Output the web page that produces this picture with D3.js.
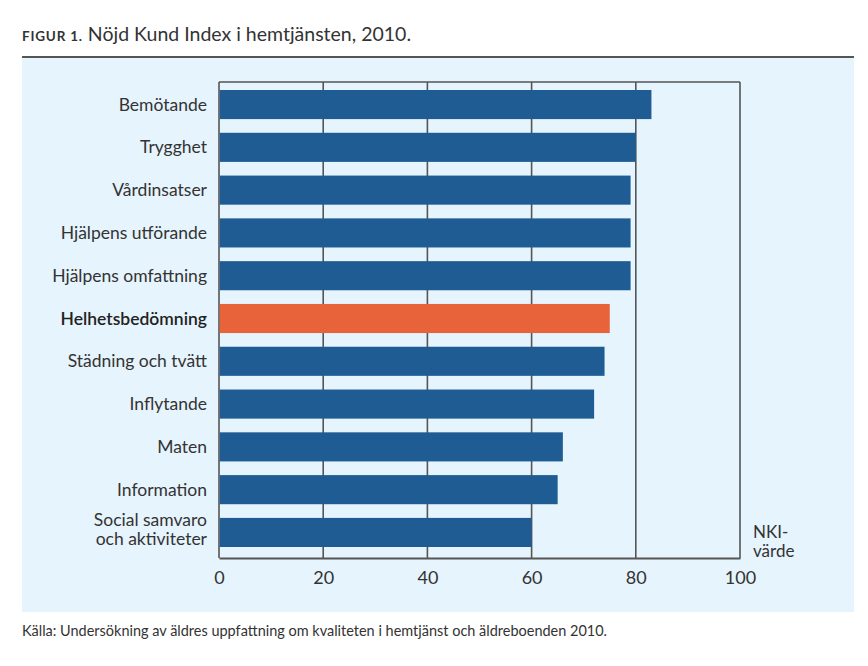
<!DOCTYPE html>
<html><head><meta charset="utf-8">
<script src="https://cdn.jsdelivr.net/npm/d3@7/dist/d3.min.js"></script>
<style>body{margin:0;background:#fff;} svg{display:block;font-family:Lato, "Open Sans", sans-serif;}</style>
</head><body><svg id="c" width="868" height="666"></svg>
<script>
const categories = ["Bemötande","Trygghet","Vårdinsatser","Hjälpens utförande","Hjälpens omfattning","Helhetsbedömning","Städning och tvätt","Inflytande","Maten","Information","Social samvaro\noch aktiviteter"];
const values = [83,80,79,79,79,75,74,72,66,65,60];
const highlight = "Helhetsbedömning";
const ticks = [0,20,40,60,80,100];

(function(){
const svg = d3.select("#c");
const txt = "#333";
svg.append("rect").attr("x",22).attr("y",57).attr("width",832).attr("height",555).attr("fill","#e6f4fd");
svg.append("line").attr("x1",22).attr("x2",854).attr("y1",57).attr("y2",57).attr("stroke","#555").attr("stroke-width",2);

const t = svg.append("text").attr("x",22).attr("y",41).attr("fill",txt);
t.append("tspan").text("FIGUR 1.").attr("font-size",13.5).attr("font-weight",700).attr("letter-spacing",0.8);
t.append("tspan").text(" Nöjd Kund Index i hemtjänsten, 2010.").attr("font-size",19.5);

svg.append("text").attr("x",22).attr("y",636).attr("font-size",15).attr("fill",txt)
  .attr("textLength",585).attr("lengthAdjust","spacingAndGlyphs")
  .text("Källa: Undersökning av äldres uppfattning om kvaliteten i hemtjänst och äldreboenden 2010.");

const x = d3.scaleLinear().domain([0,100]).range([219,740]);
const y = d3.scaleBand().domain(categories).range([90,547]).paddingInner(0.32).paddingOuter(0);
const yTop = 82, yBottom = 558;

const gc = "#555";
svg.append("line").attr("x1",x(0)).attr("x2",x(100)).attr("y1",yTop).attr("y2",yTop).attr("stroke",gc).attr("stroke-width",1.6);
svg.selectAll(".grid").data(ticks).join("line").attr("class","grid")
  .attr("x1",d=>x(d)).attr("x2",d=>x(d)).attr("y1",yTop).attr("y2",yBottom)
  .attr("stroke",gc).attr("stroke-width",1.6);

svg.selectAll(".bar").data(categories).join("rect").attr("class","bar")
  .attr("x",x(0)+0.8).attr("y",d=>y(d)).attr("height",y.bandwidth())
  .attr("width",(d,i)=>x(values[i])-x(0)-0.8)
  .attr("fill",d=>d===highlight?"#e8623a":"#1f5c93");

const xa = svg.append("g").attr("transform",`translate(0,${yBottom})`)
  .call(d3.axisBottom(x).tickValues(ticks).tickSize(0).tickPadding(13));
xa.select(".domain").attr("stroke",gc).attr("stroke-width",2);
xa.selectAll("text").attr("font-size",18).attr("fill",txt).attr("font-family","Lato, sans-serif");

const yl = svg.append("g");
categories.forEach(c=>{
  const lines = c.split("\n");
  const cy = y(c)+y.bandwidth()/2;
  const lh = 19;
  const tx = yl.append("text").attr("x",207).attr("text-anchor","end").attr("font-size",17.5)
    .attr("fill", c===highlight?"#222":txt).attr("font-weight", c===highlight?600:400);
  lines.forEach((l,k)=>{
    tx.append("tspan").attr("x",207).attr("y",cy + (k-(lines.length-1)/2)*lh - (lines.length>1?3:0)).attr("dy","0.35em").text(l);
  });
});

svg.append("text").attr("x",753).attr("y",538).attr("font-size",17).attr("fill",txt).text("NKI-");
svg.append("text").attr("x",753).attr("y",557).attr("font-size",17).attr("fill",txt).text("värde");
})();
</script></body></html>
